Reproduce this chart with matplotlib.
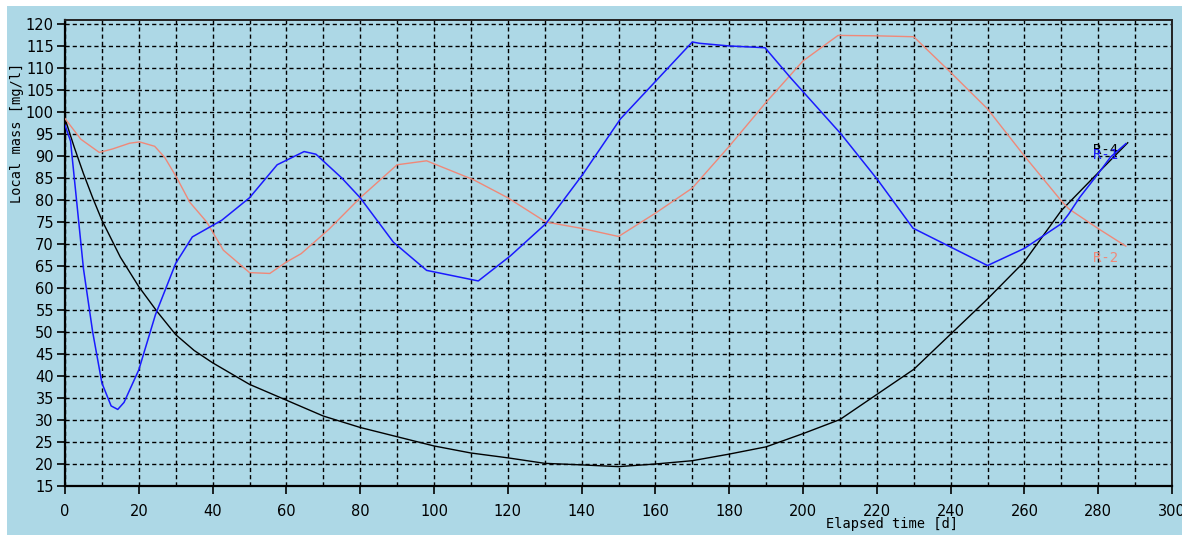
import matplotlib
matplotlib.use("Agg")
import matplotlib.pyplot as plt
from matplotlib.patches import Rectangle

# ─── Data ────────────────────────────────────────────────────────────
t_r4 = [0, 2.5, 5, 7.5, 10, 15, 20, 25, 30, 35, 40, 50, 60, 70, 80, 90, 100,
        110, 120, 130, 140, 150, 160, 170, 180, 190, 200, 210, 220, 230, 240,
        250, 260, 270, 280, 288]
m_r4 = [98.5, 92, 86, 80.5, 75.4, 67, 60.3, 54.6, 49.4, 45.8, 43, 38.1, 34.5,
        30.9, 28.3, 26.2, 24.1, 22.5, 21.4, 20.15, 19.8, 19.4, 20, 20.75, 22.25,
        23.9, 26.9, 30.1, 35.8, 41.5, 49.5, 57.5, 66, 77.6, 86.2, 93]

t_r1 = [0, 1.5, 3, 5, 7.5, 10, 12.5, 14.3, 16, 20, 24.5, 30, 34.5, 42.5, 50,
        57.5, 64.8, 68, 75, 80, 89, 98, 112, 120.7, 130.3, 140.3, 150.5, 170,
        172, 180, 189.7, 196.6, 210.3, 220.3, 229.8, 250, 260, 270, 272, 275,
        280, 283.4, 287.5]
m_r1 = [97, 93.4, 81, 64.4, 50, 38.4, 33.2, 32.4, 34, 41.4, 53.9, 65.6, 71.6,
        75.4, 80.5, 88, 91, 90.4, 85, 80.5, 70.4, 64, 61.6, 67.3, 74.6, 85.8,
        98.4, 115.9, 115.6, 115, 114.6, 107.8, 95, 84.5, 73.6, 65.1, 69, 74.6,
        76.8, 80.6, 86, 89.8, 92.8]

t_r2 = [0, 4.3, 9.3, 12.9, 17.5, 20.2, 24.3, 27, 30.2, 33.8, 38.4, 42.9, 50,
        55.5, 60, 64, 67, 71.6, 80, 90, 98, 110.7, 120, 130.3, 140.3, 150, 160,
        170, 180, 190, 200, 209.5, 220, 230, 240, 250, 260, 270, 272, 280, 287.5]
m_r2 = [98.5, 93.8, 90.8, 91.6, 92.9, 93.2, 92.2, 89.7, 85.2, 79.5, 75, 68.6,
        63.5, 63.3, 65.9, 67.8, 70, 73.4, 80.5, 88, 88.9, 84.6, 80.5, 75, 73.5,
        71.7, 77, 82.7, 92.2, 102.2, 111.6, 117.4, 117.3, 117.1, 109, 100.7, 90,
        79.8, 78, 73.5, 69.5]

x_ticks = list(range(0, 301, 20))
y_ticks = list(range(15, 121, 5))

# ─── Figure ──────────────────────────────────────────────────────────
bg = '#add8e6'
fig = plt.figure(figsize=(11.82, 5.35), dpi=100, facecolor='white')
fig.patches.append(Rectangle((7 / 1182, 0), 1, 1 - 6 / 535,
                             transform=fig.transFigure, facecolor=bg,
                             edgecolor='none', zorder=-10))

ax = fig.add_axes([65 / 1182, 1 - 486 / 535, (1172 - 65) / 1182, (486 - 20) / 535])
ax.set_facecolor(bg)

ax.plot(t_r4, m_r4, color='black', lw=1.0, zorder=3)
ax.plot(t_r2, m_r2, color='#f08878', lw=1.0, zorder=3)
ax.plot(t_r1, m_r1, color='#1a1aff', lw=1.1, zorder=4)

mono = 'DejaVu Sans Mono'
ax.text(278.6, 91.3, 'R-4', color='black', fontsize=10, family=mono, va='center')
ax.text(278.6, 90.3, 'R-1', color='#1a1aff', fontsize=10, family=mono, va='center')
ax.text(278.6, 66.8, 'R-2', color='#f08878', fontsize=10, family=mono, va='center')

ax.set_xlim(0, 300)
ax.set_ylim(15, 120.9)
ax.set_xticks(x_ticks)
ax.set_xticks(range(10, 300, 20), minor=True)
ax.set_yticks(y_ticks)

ax.grid(True, which='both', axis='x', color='black', lw=1.0, linestyle=(0, (3, 2.2)))
ax.grid(True, which='major', axis='y', color='black', lw=1.0, linestyle=(0, (3, 2.2)))
ax.set_axisbelow(True)

ax.tick_params(axis='both', which='major', direction='out', length=6, width=1.2,
               labelsize=10.5, colors='black')
ax.tick_params(axis='x', which='minor', length=0)
ax.tick_params(axis='y', pad=2)
ax.tick_params(axis='x', pad=7)

for side in ['left', 'bottom']:
    ax.spines[side].set_linewidth(1.6)
for side in ['top', 'right']:
    ax.spines[side].set_linewidth(1.4)
    ax.spines[side].set_color('#222222')

fig.text(892 / 1182, 1 - 524 / 535, 'Elapsed time [d]', family=mono,
         fontsize=9.8, ha='center', va='center')
fig.text(17 / 1182, 1 - 133 / 535, 'Local mass [mg/l]', family=mono,
         fontsize=9.8, ha='center', va='center', rotation=90)

fig.savefig('out.png', dpi=100, facecolor='white')
